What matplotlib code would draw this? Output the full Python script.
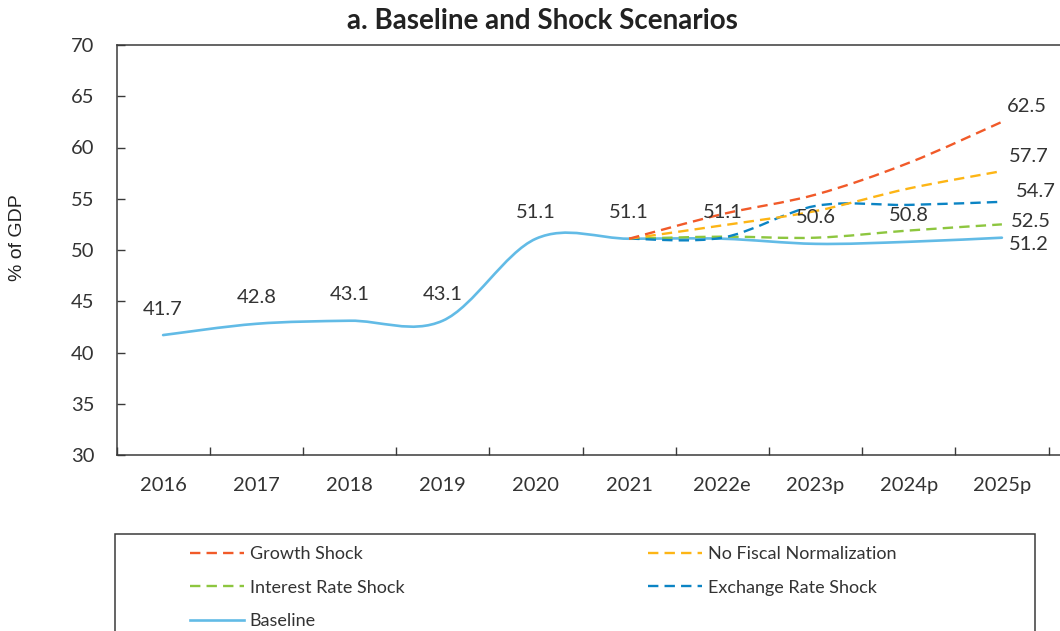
import numpy as np
import matplotlib
matplotlib.use("Agg")
import matplotlib.pyplot as plt
from matplotlib.path import Path
from matplotlib.patches import PathPatch, Rectangle
from matplotlib.lines import Line2D

plt.rcParams['font.family'] = ['Lato', 'DejaVu Sans']

# data
years = ['2016', '2017', '2018', '2019', '2020', '2021', '2022e', '2023p', '2024p', '2025p']
baseline = [41.7, 42.8, 43.1, 43.1, 51.1, 51.1, 51.1, 50.6, 50.8, 51.2]

# shock scenarios, 2021 .. 2025p
growth_shock = [51.1, 53.5, 55.4, 58.5, 62.5]
no_fiscal = [51.1, 52.4, 53.8, 56.0, 57.7]
interest_shock = [51.1, 51.3, 51.2, 51.9, 52.5]
exchange_shock = [51.1, 51.2, 54.3, 54.4, 54.7]
scenario_start = 5

# colours
c_growth = '#F15A29'
c_fiscal = '#FDB515'
c_interest = '#8DC63F'
c_exchange = '#0B84C4'
c_base = '#62BBE6'
txt = '#333333'
axcol = '#3a3a3a'


def smooth_path(xs, ys):
    # excel-style smoothed line as cubic bezier segments
    pts = np.column_stack([xs, ys]).astype(float)
    n = len(pts)
    verts = [pts[0]]
    codes = [Path.MOVETO]
    for i in range(n - 1):
        p0 = pts[i - 1] if i > 0 else pts[i]
        p1 = pts[i]
        p2 = pts[i + 1]
        p3 = pts[i + 2] if i + 2 < n else pts[i + 1]
        verts += [p1 + (p2 - p0) / 6, p2 - (p3 - p1) / 6, p2]
        codes += [Path.CURVE4] * 3
    return Path(verts, codes)


fig = plt.figure(figsize=(10.6, 6.31), dpi=100)
W, H = 1060, 631
ax_l, ax_r, ax_t, ax_b = 116.5, 1075, 45, 455
ax = fig.add_axes([ax_l / W, 1 - ax_b / H, (ax_r - ax_l) / W, (ax_b - ax_t) / H])
cat_w = 93.2
ax.set_xlim(-0.5, -0.5 + (ax_r - ax_l) / cat_w)
ax.set_ylim(30, 70)

dash = (0, (4.4, 2.6))
lw_d = 1.7
lw_b = 1.9

x_all = np.arange(len(years))
ax.add_patch(PathPatch(smooth_path(x_all, baseline), fill=False, edgecolor=c_base,
                       linewidth=lw_b, capstyle='round', zorder=3))

x_sc = np.arange(scenario_start, len(years))
for vals, col in [(interest_shock, c_interest), (exchange_shock, c_exchange),
                  (no_fiscal, c_fiscal), (growth_shock, c_growth)]:
    ax.add_patch(PathPatch(smooth_path(x_sc, vals), fill=False, edgecolor=col,
                           linewidth=lw_d, linestyle=dash, zorder=4))

fs = 14.5

# data labels
for i, v in enumerate(baseline[:-1]):
    ax.annotate(f'{v:.1f}', (i, v), xytext=(0, 26), textcoords='offset pixels',
                ha='center', va='center', fontsize=fs, color=txt, zorder=5)

end_labels = [(growth_shock[-1], (25, 15)), (no_fiscal[-1], (27, 15)),
              (exchange_shock[-1], (34, 10)), (interest_shock[-1], (29, 3)),
              (baseline[-1], (27, -7))]
for v, off in end_labels:
    ax.annotate(f'{v:.1f}', (len(years) - 1, v), xytext=off, textcoords='offset pixels',
                ha='center', va='center', fontsize=fs, color=txt, zorder=5)

# axes styling
for s in ['left', 'top', 'bottom']:
    ax.spines[s].set_color(axcol)
    ax.spines[s].set_linewidth(1.1)
ax.spines['right'].set_visible(False)

ax.set_yticks(np.arange(30, 71, 5))
ax.tick_params(axis='y', direction='in', length=6, width=1, color=axcol,
               labelsize=fs, labelcolor=txt, pad=16)
ax.set_xticks(x_all)
ax.set_xticklabels(years)
ax.set_xticks(np.arange(-0.5, len(years) + 0.5, 1), minor=True)
ax.tick_params(axis='x', which='major', length=0, labelsize=fs, labelcolor=txt, pad=16)
ax.tick_params(axis='x', which='minor', direction='in', length=6, width=1, color=axcol)

fig.text(542 / W, 1 - 21 / H, 'a. Baseline and Shock Scenarios', ha='center', va='center',
         fontsize=20, fontweight='bold', color='#222222')
fig.text(18 / W, 1 - 238 / H, '% of GDP', rotation=90, ha='center', va='center',
         fontsize=14, color='#222222', family=['Liberation Sans', 'DejaVu Sans'])

# legend
fig.patches.append(Rectangle((115 / W, 1 - 660 / H), (1035 - 115) / W, (660 - 534) / H,
                             transform=fig.transFigure, fill=False, edgecolor=axcol,
                             linewidth=1.1))
handles = [
    Line2D([], [], color=c_growth, lw=lw_d, linestyle=dash),
    Line2D([], [], color=c_interest, lw=lw_d, linestyle=dash),
    Line2D([], [], color=c_base, lw=lw_b),
    Line2D([], [], color=c_fiscal, lw=lw_d, linestyle=dash),
    Line2D([], [], color=c_exchange, lw=lw_d, linestyle=dash),
]
labels = ['Growth Shock', 'Interest Rate Shock', 'Baseline',
          'No Fiscal Normalization', 'Exchange Rate Shock']
leg = fig.legend(handles, labels, ncol=2, loc='upper left',
                 bbox_to_anchor=(190 / W, 1 - 546 / H), frameon=False,
                 fontsize=13, handlelength=3.0, handletextpad=0.3,
                 columnspacing=13.5, labelspacing=0.97, borderpad=0, borderaxespad=0)
for t in leg.get_texts():
    t.set_color(txt)

fig.savefig('out.png', dpi=100)
